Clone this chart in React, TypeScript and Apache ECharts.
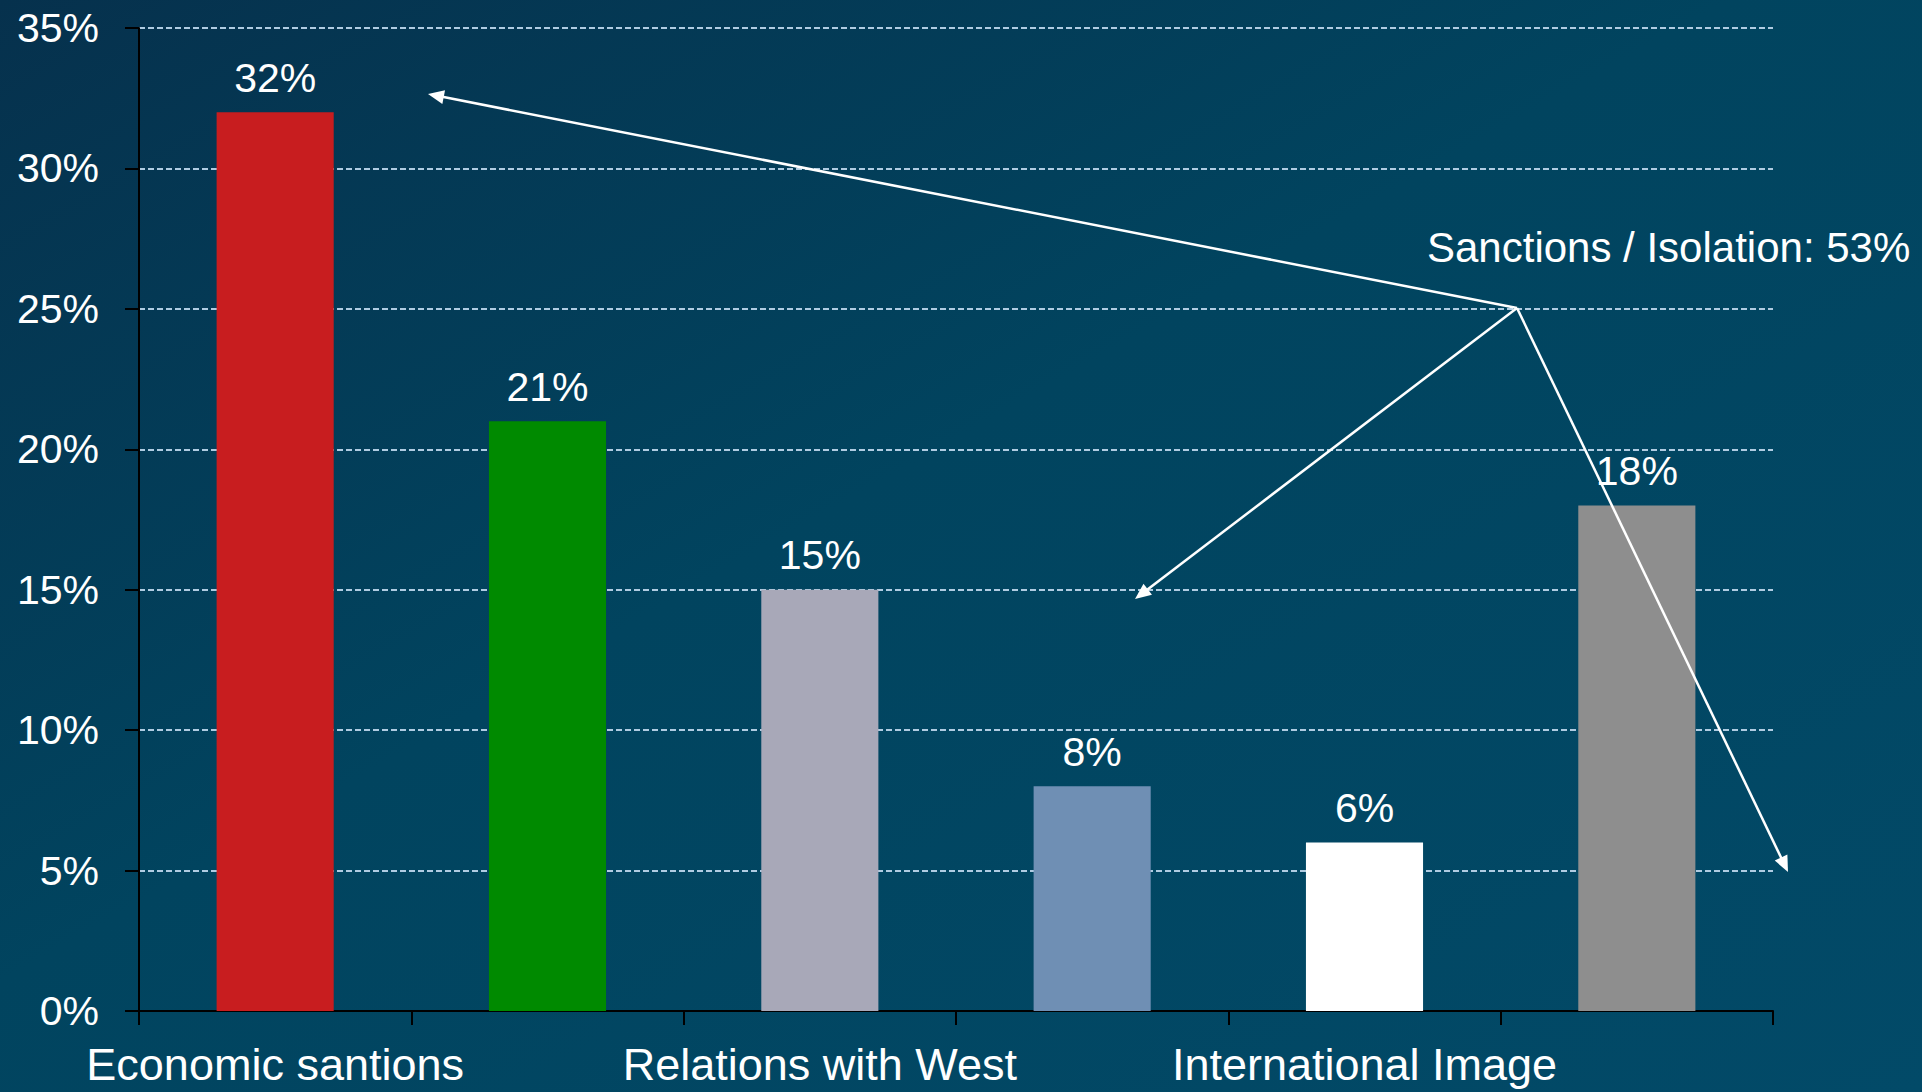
import React, { useEffect, useRef } from "react";
import * as echarts from "echarts";

const categories = ["Economic santions", " ", "Relations with West", "  ", "International Image", "   "];
const values = [32, 21, 15, 8, 6, 18];
const barColors = ["#c81d1f", "#008a00", "#a8a8b8", "#6f8fb4", "#ffffff", "#8e8e8e"];
const yTicks = [0, 5, 10, 15, 20, 25, 30, 35];
const annotationText = "Sanctions / Isolation: 53%";

// annotation arrows (pixel positions in the 1922x1092 canvas)
const arrowOrigin = [1517, 308];
const arrowTips = [
  [428, 94],
  [1135, 599],
  [1788, 872],
];

function arrowHead(from: number[], to: number[], len = 16, half = 7) {
  const dx = to[0] - from[0];
  const dy = to[1] - from[1];
  const d = Math.sqrt(dx * dx + dy * dy);
  const ux = dx / d;
  const uy = dy / d;
  const bx = to[0] - ux * len;
  const by = to[1] - uy * len;
  return [
    [to[0], to[1]],
    [bx - uy * half, by + ux * half],
    [bx + uy * half, by - ux * half],
  ];
}

export default function App() {
  const ref = useRef<HTMLDivElement>(null);
  useEffect(() => {
    document.body.style.margin = "0";
    document.body.style.overflow = "hidden";
    const chart = echarts.init(ref.current!, null, { renderer: "svg" });
    const graphics: any[] = [];
    arrowTips.forEach((tip) => {
      const head = arrowHead(arrowOrigin, tip);
      const dx = tip[0] - arrowOrigin[0];
      const dy = tip[1] - arrowOrigin[1];
      const d = Math.sqrt(dx * dx + dy * dy);
      const endX = tip[0] - (dx / d) * 12;
      const endY = tip[1] - (dy / d) * 12;
      graphics.push({
        type: "line",
        shape: { x1: arrowOrigin[0], y1: arrowOrigin[1], x2: endX, y2: endY },
        style: { stroke: "#ffffff", lineWidth: 2.5 },
        z: 100,
      });
      graphics.push({
        type: "polygon",
        shape: { points: head },
        style: { fill: "#ffffff" },
        z: 100,
      });
    });
    graphics.push({
      type: "text",
      x: 1427,
      y: 247,
      style: {
        text: annotationText,
        fill: "#ffffff",
        font: '42px "Liberation Sans", Arial, sans-serif',
        verticalAlign: "middle",
        align: "left",
      },
      z: 100,
    });
    chart.setOption({
      animation: false,
      backgroundColor: {
        type: "linear",
        x: 0,
        y: 0,
        x2: 1,
        y2: 1,
        colorStops: [
          { offset: 0, color: "#06314d" },
          { offset: 0.45, color: "#01445f" },
          { offset: 1, color: "#024a68" },
        ],
      },
      textStyle: { fontFamily: '"Liberation Sans", Arial, sans-serif' },
      grid: { left: 139, right: 149, top: 28, bottom: 81, containLabel: false },
      xAxis: {
        type: "category",
        data: categories,
        axisLine: { show: true, lineStyle: { color: "#000000", width: 2 } },
        axisTick: { show: true, interval: 0, length: 14, alignWithLabel: false, lineStyle: { color: "#000000", width: 2 } },
        axisLabel: {
          interval: 1,
          color: "#ffffff",
          fontSize: 45,
          margin: 31,
        },
        splitLine: { show: false },
      },
      yAxis: {
        type: "value",
        min: yTicks[0],
        max: yTicks[yTicks.length - 1],
        interval: 5,
        axisLine: { show: true, lineStyle: { color: "#000000", width: 2 } },
        axisTick: { show: true, length: 14, lineStyle: { color: "#000000", width: 2 } },
        axisLabel: {
          color: "#ffffff",
          fontSize: 41,
          margin: 40,
          formatter: "{value}%",
        },
        splitLine: {
          show: true,
          lineStyle: { color: "#b0cce2", width: 1.8, type: [6, 3] },
        },
      },
      series: [
        {
          type: "bar",
          data: values.map((v, i) => ({ value: v, itemStyle: { color: barColors[i] } })),
          barWidth: "43%",
          label: {
            show: true,
            position: "top",
            distance: 14,
            color: "#ffffff",
            fontSize: 41,
            formatter: "{c}%",
          },
        },
      ],
      graphic: graphics,
    });
    return () => chart.dispose();
  }, []);
  return (
    <div
      ref={ref}
      style={{ position: "absolute", left: 0, top: 0, width: 1922, height: 1092 }}
    />
  );
}
